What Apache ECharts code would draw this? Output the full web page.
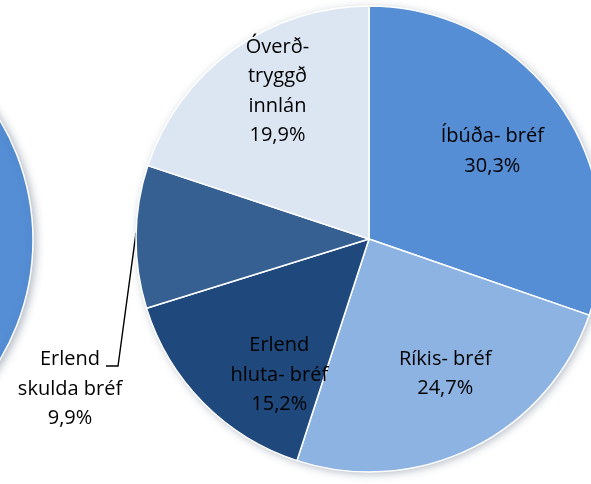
<!DOCTYPE html>
<html>
<head>
<meta charset="utf-8">
<script src="https://cdn.jsdelivr.net/npm/echarts@6/dist/echarts.min.js"></script>
<style>html,body{margin:0;padding:0;background:#fff}#c{width:591px;height:484px}</style>
</head>
<body>
<div id="c"></div>
<script>
// ---- data ----
var categories = ['Íbúða- bréf', 'Ríkis- bréf', 'Erlend hluta- bréf', 'Erlend skulda bréf', 'Óverð- tryggð innlán'];
var labelNames = ['Íbúða- bréf', 'Ríkis- bréf', 'Erlend\nhluta- bréf', 'Erlend\nskulda bréf', 'Óverð-\ntryggð\ninnlán'];
var values = [30.3, 24.7, 15.2, 9.9, 19.9];
var leftPieValues = [1];

// ---- style ----
var colors = ['#558ED5', '#8DB3E2', '#1F497D', '#376092', '#DCE6F2'];
var CX = 369, CY = 239, R = 233;
var labelRadius = [0.65, 0.665, 0.70, 0, 0.745];
var labelAngleAdj = [0, -3, -12, 0, 4];
var FONT = 'Open Sans';

var total = values.reduce(function (a, b) { return a + b; }, 0);
var midAngles = [];
(function () {
  var acc = 0;
  for (var i = 0; i < values.length; i++) {
    midAngles.push((acc + values[i] / 2) / total * 360);
    acc += values[i];
  }
})();

function pct(v) { return v.toFixed(1).replace('.', ',') + '%'; }

var chart = echarts.init(document.getElementById('c'), null, { renderer: 'canvas' });

var data = categories.map(function (c, i) {
  var d = { name: c, value: values[i], itemStyle: { color: colors[i] } };
  if (i === 3) {
    d.labelLine = { show: true, lineStyle: { color: '#000', width: 1.4 } };
  }
  return d;
});

chart.setOption({
  animation: false,
  backgroundColor: '#fff',
  series: [
    {
      type: 'pie', silent: true, center: [-200, 240], radius: R, z: 1,
      label: { show: false }, labelLine: { show: false },
      itemStyle: { color: '#558ED5', borderColor: '#fff', borderWidth: 1.5, shadowBlur: 8, shadowColor: 'rgba(40,60,90,0.35)', shadowOffsetX: 2, shadowOffsetY: 2 },
      data: leftPieValues
    },
    {
      type: 'pie', silent: true, center: [CX, CY], radius: R, z: 1,
      label: { show: false }, labelLine: { show: false },
      itemStyle: { color: '#fff', shadowBlur: 8, shadowColor: 'rgba(40,60,90,0.35)', shadowOffsetX: 2, shadowOffsetY: 2 },
      data: [1]
    },
    {
      type: 'pie', silent: true, center: [CX, CY], radius: R, z: 2,
      startAngle: 90, clockwise: true,
      avoidLabelOverlap: false,
      itemStyle: { borderColor: '#fff', borderWidth: 1.5 },
      label: {
        show: true, position: 'outside', color: '#000',
        fontFamily: FONT, fontSize: 20, lineHeight: 29.5, align: 'center',
        formatter: function (p) { return labelNames[p.dataIndex] + '\n' + pct(p.value); }
      },
      labelLine: { show: false, length: 10, length2: 10 },
      labelLayout: function (p) {
        var i = p.dataIndex;
        if (i === 3) {
          var a = midAngles[i] * Math.PI / 180;
          var sx = CX + R * Math.sin(a), sy = CY - R * Math.cos(a) - 4;
          return {
            x: 70, y: 389, align: 'center', verticalAlign: 'middle',
            labelLinePoints: [[sx, sy], [sx - 18, 366], [106, 366]]
          };
        }
        var ang = (midAngles[i] + labelAngleAdj[i]) * Math.PI / 180;
        var rr = R * labelRadius[i];
        return {
          x: CX + rr * Math.sin(ang), y: CY - rr * Math.cos(ang),
          align: 'center', verticalAlign: 'middle'
        };
      },
      data: data
    }
  ]
});
</script>
</body>
</html>
